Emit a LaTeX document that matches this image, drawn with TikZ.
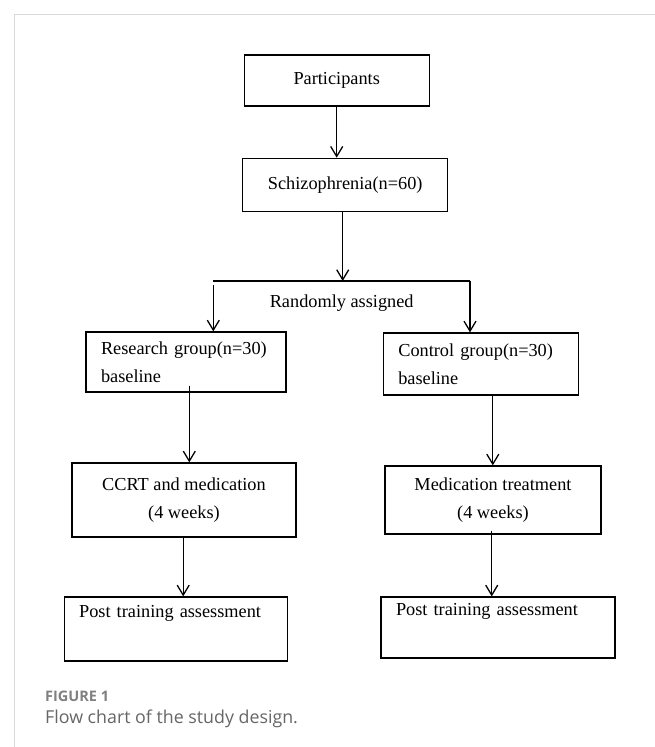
\documentclass[tikz,border=0pt]{standalone}
\usepackage{fontspec}
\setmainfont{Liberation Serif}
\newfontfamily\capfont{Open Sans}
\usetikzlibrary{arrows.meta}

\tikzset{
  flowbox/.style={draw, line width=1.2pt, inner sep=0pt,
    font=\fontsize{18.3}{27.5}\selectfont},
  leftbox/.style={flowbox, align=left, inner xsep=15pt},
  midbox/.style={flowbox, align=center},
  flowarrow/.style={line width=1.3pt, -{Straight Barb[length=10pt,width=12pt]}}
}

\begin{document}
\begin{tikzpicture}[x=1pt, y=-1pt]
  \useasboundingbox (0,0) rectangle (655,747);
  \fill[white] (0,0) rectangle (655,747);

  % Card frame
  \draw[gray!30, line width=1.2pt] (14.3,747) -- (14.3,14.7) -- (655,14.7);

  % Top of the chart
  \node[midbox, minimum width=185pt, minimum height=51pt] (part) at (336.7,80.5) {Participants};
  \node[midbox, minimum width=205pt, minimum height=53pt] (schiz) at (345.2,184.8) {Schizophrenia(n=60)};
  \draw[flowarrow] (part.south) -- (part.south |- schiz.north);

  % Random split
  \coordinate (split) at (342.7,281);
  \coordinate (lsplit) at (213.3,281);
  \coordinate (rsplit) at (470,281);
  \draw[flowarrow] (schiz.south -| split) -- (split);
  \draw[line width=1.3pt] (lsplit) -- (rsplit);
  \node[font=\fontsize{18.3}{22}\selectfont] (rand) at (341.7,303.3) {Randomly assigned};

  % Research group
  \node[leftbox, minimum height=60pt, text width=170pt] (research) at (186,362)
    {Research group(n=30)\\baseline};
  \node[midbox, minimum width=224pt, minimum height=74pt] (ccrt) at (184,500)
    {CCRT and medication\\(4 weeks)};
  \node[leftbox, minimum height=64pt, text width=193pt] (postl) at (175.6,629)
    {Post training assessment\\\strut};

  % Control group
  \node[leftbox, minimum height=62pt, text width=165pt] (control) at (480.8,364)
    {Control group(n=30)\\baseline};
  \node[midbox, minimum width=216pt, minimum height=68pt] (medic) at (493,500)
    {Medication treatment\\(4 weeks)};
  \node[leftbox, minimum height=61pt, text width=204pt] (postr) at (498,627.5)
    {Post training assessment\\\strut};

  % Arrows down the two columns
  \draw[flowarrow] ([yshift=-4pt]lsplit) -- (lsplit |- research.north);
  \draw[flowarrow] (rsplit) -- (rsplit |- control.north);
  \draw[flowarrow] ([xshift=3.3pt,yshift=7pt]research.south) -- ([xshift=3.3pt]research.south |- ccrt.north);
  \draw[flowarrow] ([xshift=12pt]control.south) -- ([xshift=12pt]control.south |- medic.north);
  \draw[flowarrow] ([xshift=-0.8pt]ccrt.south) -- ([xshift=-0.8pt]ccrt.south |- postl.north);
  \draw[flowarrow] ([xshift=-1.3pt,yshift=4pt]medic.south) -- ([xshift=-1.3pt]medic.south |- postr.north);

  % Caption
  \node[anchor=base west, inner sep=0pt, text=black!50,
    font=\capfont\bfseries\fontsize{14.5}{17}\selectfont] (fig) at (45,701) {FIGURE 1};
  \node[anchor=base west, inner sep=0pt, text=black!60,
    font=\capfont\fontsize{17.8}{21}\selectfont] (caption) at (45,723.5) {Flow chart of the study design.};
\end{tikzpicture}
\end{document}
